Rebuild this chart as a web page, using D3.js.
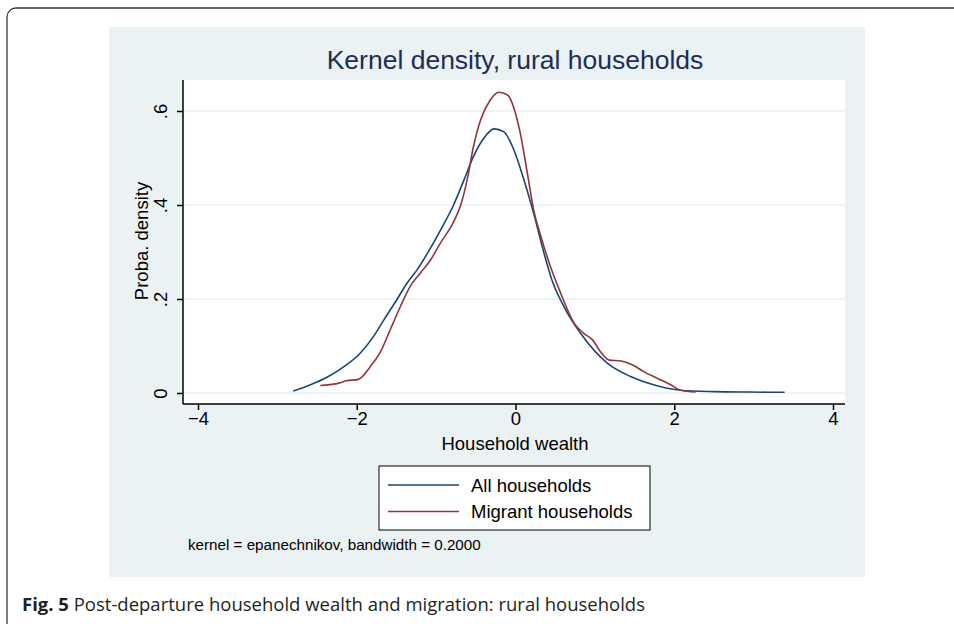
<!DOCTYPE html>
<html>
<head>
<meta charset="utf-8">
<script src="https://cdn.jsdelivr.net/npm/d3@7"></script>
<style>
  body { margin: 0; background: #fff; }
  svg { display: block; }
</style>
</head>
<body>
<div id="chart"></div>
<script>
// density estimates
var allX = [-2.80, -2.59, -2.38, -2.17, -1.96, -1.79, -1.66, -1.49, -1.37, -1.24, -1.11, -0.91, -0.78, -0.65, -0.53, -0.40, -0.27, -0.15, -0.02, 0.10, 0.23, 0.36, 0.46, 0.61, 0.82, 1.16, 1.45, 1.75, 2.08, 2.50, 2.93, 3.39];
var allY = [0.004, 0.017, 0.033, 0.055, 0.084, 0.120, 0.155, 0.200, 0.233, 0.262, 0.297, 0.357, 0.400, 0.453, 0.503, 0.542, 0.562, 0.556, 0.517, 0.457, 0.382, 0.297, 0.240, 0.184, 0.127, 0.063, 0.035, 0.017, 0.006, 0.003, 0.002, 0.0015];

var migX = [-2.46, -2.25, -2.13, -1.98, -1.83, -1.70, -1.58, -1.45, -1.33, -1.20, -1.07, -0.95, -0.78, -0.69, -0.61, -0.53, -0.44, -0.32, -0.21, -0.10, -0.02, 0.06, 0.15, 0.23, 0.32, 0.44, 0.57, 0.74, 0.86, 0.97, 1.07, 1.18, 1.33, 1.47, 1.62, 1.79, 1.96, 2.08, 2.27];
var migY = [0.016, 0.020, 0.026, 0.029, 0.056, 0.088, 0.134, 0.184, 0.226, 0.255, 0.283, 0.318, 0.364, 0.400, 0.453, 0.524, 0.581, 0.623, 0.640, 0.634, 0.606, 0.553, 0.467, 0.389, 0.333, 0.269, 0.212, 0.148, 0.127, 0.113, 0.088, 0.070, 0.068, 0.060, 0.045, 0.031, 0.017, 0.006, 0.002];

var seriesNames = ["All households", "Migrant households"];
var xTicks = [-4, -2, 0, 2, 4];
var yTicks = [0, 0.2, 0.4, 0.6];
var yTickLabels = ["0", ".2", ".4", ".6"];

var W = 954, H = 624;
var font = "'Liberation Sans', Arial, sans-serif";
var blue = "#1a476f", red = "#90353b";
var labelSize = 18.5;

var svg = d3.select("#chart").append("svg")
    .attr("width", W)
    .attr("height", H);

// outer figure frame (rounded, runs off the right/bottom edge)
svg.append("rect")
    .attr("x", 7).attr("y", 8)
    .attr("width", 960).attr("height", 640)
    .attr("rx", 9)
    .attr("fill", "none")
    .attr("stroke", "#3a3a3a")
    .attr("stroke-width", 1.3);

// graph region
svg.append("rect")
    .attr("x", 109).attr("y", 27)
    .attr("width", 756).attr("height", 550)
    .attr("fill", "#eaf2f3");

var plot = { left: 183, right: 845, top: 80, bottom: 404 };

svg.append("rect")
    .attr("x", plot.left).attr("y", plot.top)
    .attr("width", plot.right - plot.left).attr("height", plot.bottom - plot.top)
    .attr("fill", "#fff");

var x = d3.scaleLinear().domain([-4, 4]).range([198, 833]);
var y = d3.scaleLinear().domain([0, 0.6]).range([393, 111]);

// gridlines
svg.selectAll(".grid")
    .data(yTicks)
    .enter().append("line")
    .attr("class", "grid")
    .attr("x1", plot.left).attr("x2", plot.right)
    .attr("y1", function (d) { return y(d); })
    .attr("y2", function (d) { return y(d); })
    .attr("stroke", "#eaf2f3")
    .attr("stroke-width", 1.6);

// axes
var xAxis = svg.append("g")
    .attr("transform", "translate(0," + plot.bottom + ")")
    .call(d3.axisBottom(x).tickValues(xTicks).tickSize(6).tickPadding(2)
        .tickFormat(function (d) { return d < 0 ? "\u2212" + Math.abs(d) : d; }));
xAxis.select(".domain").attr("d", "M" + plot.left + ",0H" + plot.right);

var yAxis = svg.append("g")
    .attr("transform", "translate(" + plot.left + ",0)")
    .call(d3.axisLeft(y).tickValues(yTicks).tickSize(6)
        .tickFormat(function (d, i) { return yTickLabels[i]; }));
yAxis.select(".domain").attr("d", "M0," + plot.top + "V" + plot.bottom);

[xAxis, yAxis].forEach(function (g) {
    g.selectAll("path, line").attr("stroke", "#000").attr("stroke-width", 1.5);
    g.selectAll("text").attr("font-family", font).attr("font-size", labelSize).attr("fill", "#000");
});

// rotate y tick labels like Stata
yAxis.selectAll(".tick text")
    .attr("x", null).attr("dy", null)
    .attr("text-anchor", "middle")
    .attr("transform", "translate(-16,0) rotate(-90)");

// density curves
var line = d3.line()
    .x(function (d) { return x(d[0]); })
    .y(function (d) { return y(d[1]); })
    .curve(d3.curveMonotoneX);

var series = [
    { name: seriesNames[0], color: blue, pts: d3.zip(allX, allY) },
    { name: seriesNames[1], color: red, pts: d3.zip(migX, migY) }
];

series.forEach(function (s) {
    svg.append("path")
        .datum(s.pts)
        .attr("d", line)
        .attr("fill", "none")
        .attr("stroke", s.color)
        .attr("stroke-width", 1.6);
});

// titles
svg.append("text")
    .attr("x", 515).attr("y", 69)
    .attr("text-anchor", "middle")
    .attr("font-family", font).attr("font-size", 26.5)
    .attr("fill", "#1e2d55")
    .text("Kernel density, rural households");

svg.append("text")
    .attr("transform", "translate(148,241) rotate(-90)")
    .attr("text-anchor", "middle")
    .attr("font-family", font).attr("font-size", labelSize)
    .text("Proba. density");

svg.append("text")
    .attr("x", 515).attr("y", 450)
    .attr("text-anchor", "middle")
    .attr("font-family", font).attr("font-size", labelSize)
    .text("Household wealth");

// legend
var legend = svg.append("g");
legend.append("rect")
    .attr("x", 379).attr("y", 466)
    .attr("width", 271).attr("height", 64)
    .attr("fill", "#fff")
    .attr("stroke", "#000")
    .attr("stroke-width", 1);

series.forEach(function (s, i) {
    var ly = 485 + i * 26.5;
    legend.append("line")
        .attr("x1", 388).attr("x2", 459)
        .attr("y1", ly).attr("y2", ly)
        .attr("stroke", s.color)
        .attr("stroke-width", 1.6);
    legend.append("text")
        .attr("x", 471).attr("y", ly + 6.5)
        .attr("font-family", font).attr("font-size", labelSize)
        .text(s.name);
});

svg.append("text")
    .attr("x", 188).attr("y", 550)
    .attr("font-family", font).attr("font-size", 15.2)
    .text("kernel = epanechnikov, bandwidth = 0.2000");

// figure caption
var cap = svg.append("text")
    .attr("x", 22).attr("y", 611)
    .attr("font-family", "'Open Sans', 'Noto Sans', sans-serif")
    .attr("font-size", 18)
    .attr("fill", "#231f20")
    .attr("textLength", 623)
    .attr("lengthAdjust", "spacingAndGlyphs");
cap.append("tspan").attr("font-weight", "bold").text("Fig. 5");
cap.append("tspan").text("  Post-departure household wealth and migration: rural households");
</script>
</body>
</html>
